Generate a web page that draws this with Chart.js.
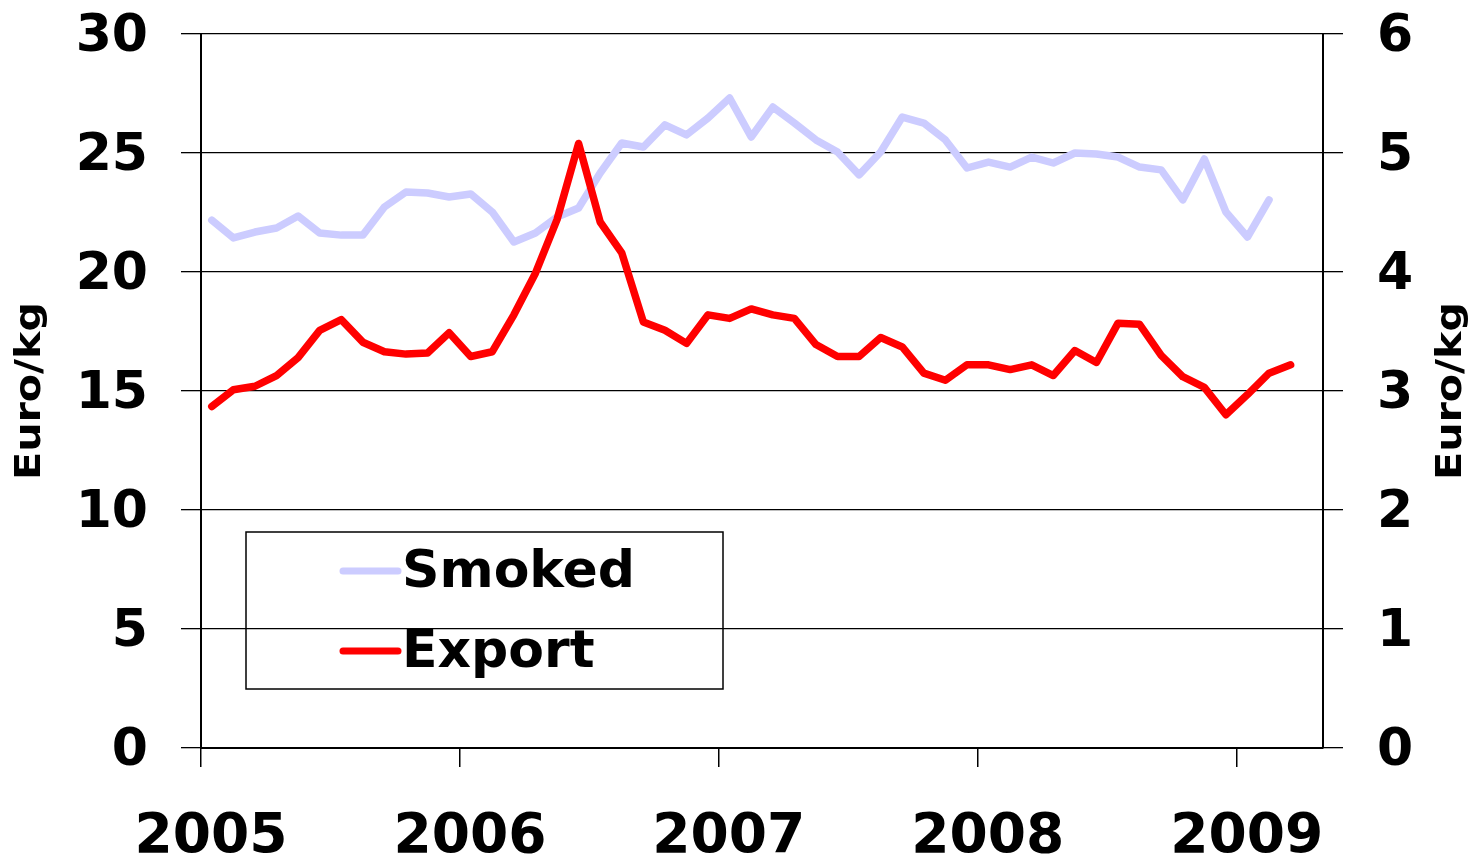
<!DOCTYPE html>
<html>
<head>
<meta charset="utf-8">
<script src="https://cdn.jsdelivr.net/npm/chart.js@4.4.1/dist/chart.umd.min.js"></script>
<style>
    html, body { margin: 0; padding: 0; background: #fff; }
    #wrap { width: 1475px; height: 862px; }
</style>
</head>
<body>
<div id="wrap"><canvas id="priceChart" width="1475" height="862"></canvas></div>
<script>
// --- Data ---
const months = [
    '2005-01','2005-02','2005-03','2005-04','2005-05','2005-06','2005-07','2005-08','2005-09','2005-10','2005-11','2005-12',
    '2006-01','2006-02','2006-03','2006-04','2006-05','2006-06','2006-07','2006-08','2006-09','2006-10','2006-11','2006-12',
    '2007-01','2007-02','2007-03','2007-04','2007-05','2007-06','2007-07','2007-08','2007-09','2007-10','2007-11','2007-12',
    '2008-01','2008-02','2008-03','2008-04','2008-05','2008-06','2008-07','2008-08','2008-09','2008-10','2008-11','2008-12',
    '2009-01','2009-02','2009-03'
];

// Smoked, Euro/kg (left axis)
const smoked = [
    22.18, 21.43, 21.68, 21.85, 22.35, 21.64, 21.55, 21.55, 22.73, 23.36, 23.32, 23.15,
    23.28, 22.52, 21.26, 21.64, 22.31, 22.69, 24.16, 25.42, 25.25, 26.18, 25.76, 26.47,
    27.31, 25.67, 26.93, 26.26, 25.55, 25.04, 24.08, 25.04, 26.51, 26.26, 25.55, 24.37,
    24.62, 24.41, 24.83, 24.58, 25.00, 24.96, 24.83, 24.41, 24.29, 23.03, 24.75, 22.52,
    21.47, 23.03, null
];

// Export, Euro/kg (right axis)
const exportPrice = [
    2.87, 3.01, 3.04, 3.13, 3.28, 3.51, 3.60, 3.41, 3.33, 3.31, 3.32, 3.49,
    3.29, 3.33, 3.64, 3.99, 4.44, 5.08, 4.42, 4.16, 3.58, 3.51, 3.40, 3.64,
    3.61, 3.69, 3.64, 3.61, 3.39, 3.29, 3.29, 3.45, 3.37, 3.15, 3.09, 3.22,
    3.22, 3.18, 3.22, 3.13, 3.34, 3.24, 3.57, 3.56, 3.30, 3.12, 3.03, 2.80,
    2.97, 3.15, 3.22
];

const yearTicks = [2005, 2006, 2007, 2008, 2009];
const leftTicks = [0, 5, 10, 15, 20, 25, 30];
const rightTicks = [0, 1, 2, 3, 4, 5, 6];
const axisTitle = 'Euro/kg';

// --- Helpers ---
const FONT = "'DejaVu Sans', Verdana, sans-serif";
const monthToX = (s) => {
    const [y, m] = s.split('-').map(Number);
    return y + (m - 0.5) / 12;
};
const toPoints = (values) => months.map((s, i) => ({ x: monthToX(s), y: values[i] }));

// fixed axis boxes so the plot area sits where it does in the original
const fixWidth = (w) => (scale) => {
    scale.width = w;
    scale.paddingTop = 0;
    scale.paddingBottom = 0;
};

// --- Axis titles + boxed legend inside the plot ---
const decorPlugin = {
    id: 'decor',
    afterDraw(chart) {
        const ctx = chart.ctx;
        const area = chart.chartArea;
        const midY = (area.top + area.bottom) / 2;

        // rotated axis titles, both reading bottom-to-top
        ctx.save();
        ctx.font = `bold 36px ${FONT}`;
        ctx.fillStyle = '#000';
        ctx.textAlign = 'center';
        ctx.textBaseline = 'middle';
        const stretch = 178 / ctx.measureText(axisTitle).width;
        [31, chart.width - 23].forEach(cx => {
            ctx.save();
            ctx.translate(cx, midY);
            ctx.rotate(-Math.PI / 2);
            ctx.scale(stretch, 1);
            ctx.fillText(axisTitle, 0, 0);
            ctx.restore();
        });
        ctx.restore();

        // legend box
        const bx = area.left + 45, by = area.top + 498, bw = 477, bh = 157;
        ctx.save();
        ctx.strokeStyle = '#000';
        ctx.lineWidth = 1.5;
        ctx.strokeRect(bx, by, bw, bh);
        ctx.font = `bold 52px ${FONT}`;
        ctx.textBaseline = 'middle';
        ctx.textAlign = 'left';
        chart.data.datasets.forEach((ds, i) => {
            const ly = by + 39 + i * 80;
            ctx.strokeStyle = ds.borderColor;
            ctx.lineWidth = 7;
            ctx.lineCap = 'round';
            ctx.beginPath();
            ctx.moveTo(bx + 97, ly);
            ctx.lineTo(bx + 152, ly);
            ctx.stroke();
            ctx.fillStyle = '#000';
            ctx.fillText(ds.label, bx + 156, ly + 2);
        });
        ctx.restore();
    }
};

const ctx = document.getElementById('priceChart').getContext('2d');
new Chart(ctx, {
    type: 'line',
    data: {
        datasets: [
            {
                label: 'Smoked',
                data: toPoints(smoked),
                yAxisID: 'y',
                borderColor: '#CCCCFF',
                borderWidth: 7.5,
                pointRadius: 0,
                tension: 0,
                borderCapStyle: 'round',
                borderJoinStyle: 'round',
                spanGaps: false,
                order: 2
            },
            {
                label: 'Export',
                data: toPoints(exportPrice),
                yAxisID: 'y1',
                borderColor: '#FF0000',
                borderWidth: 7.5,
                pointRadius: 0,
                tension: 0,
                borderCapStyle: 'round',
                borderJoinStyle: 'round',
                order: 1
            }
        ]
    },
    options: {
        responsive: false,
        animation: false,
        devicePixelRatio: 1,
        layout: { padding: { top: 34, left: 0, right: 0, bottom: 0 } },
        plugins: {
            legend: { display: false },
            tooltip: { enabled: false }
        },
        scales: {
            x: {
                type: 'linear',
                min: 2005,
                max: 2009 + 4 / 12,
                afterFit: (scale) => {
                    scale.height = 114;
                    scale.paddingLeft = 0;
                    scale.paddingRight = 0;
                },
                afterBuildTicks: (scale) => { scale.ticks = yearTicks.map(v => ({ value: v })); },
                grid: {
                    drawOnChartArea: false,
                    color: '#000',
                    lineWidth: 1.5,
                    tickLength: 19
                },
                border: { color: '#000', width: 2 },
                ticks: {
                    color: '#000',
                    font: { family: FONT, size: 55, weight: 'bold' },
                    padding: 38,
                    labelOffset: 10,
                    maxRotation: 0,
                    autoSkip: false,
                    callback: (v) => String(v)
                }
            },
            y: {
                position: 'left',
                min: 0,
                max: 30,
                afterFit: fixWidth(201),
                afterBuildTicks: (scale) => { scale.ticks = leftTicks.map(v => ({ value: v })); },
                grid: {
                    color: '#000',
                    lineWidth: 1.3,
                    tickLength: 20
                },
                border: { color: '#000', width: 2 },
                ticks: {
                    color: '#000',
                    font: { family: FONT, size: 52, weight: 'bold' },
                    padding: 33,
                    labelOffset: 3
                }
            },
            y1: {
                position: 'right',
                min: 0,
                max: 6,
                afterFit: fixWidth(152),
                afterBuildTicks: (scale) => { scale.ticks = rightTicks.map(v => ({ value: v })); },
                grid: {
                    drawOnChartArea: false,
                    color: '#000',
                    lineWidth: 1.3,
                    tickLength: 20
                },
                border: { color: '#000', width: 2 },
                ticks: {
                    color: '#000',
                    font: { family: FONT, size: 52, weight: 'bold' },
                    padding: 34,
                    labelOffset: 3
                }
            }
        }
    },
    plugins: [decorPlugin]
});
</script>
</body>
</html>
